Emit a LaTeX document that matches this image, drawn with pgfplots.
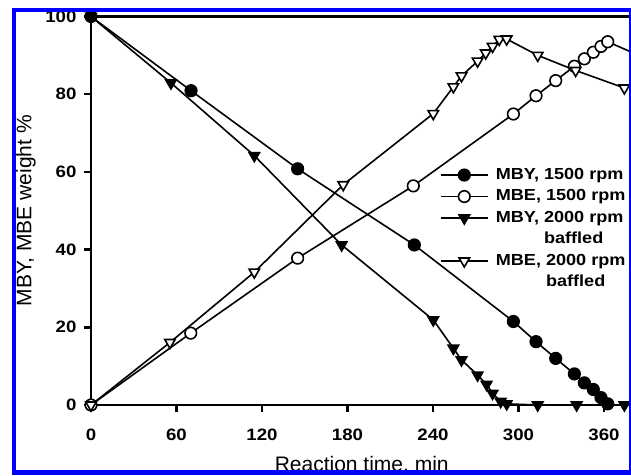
\documentclass[border=0pt]{standalone}
\usepackage{pgfplots}
\pgfplotsset{compat=1.18}
\usepackage{fontspec}
\setmainfont{Liberation Sans}
\newfontfamily\bfont{Liberation Sans}[FakeStretch=1.13]
\newcommand\tickf{\bfont\bfseries\fontsize{16.5}{19}\selectfont}
\newcommand\legf{\bfont\bfseries\fontsize{16}{19}\selectfont}
\newcommand\labf{\fontsize{21}{25}\selectfont}
\begin{document}
\begin{tikzpicture}
\path[use as bounding box, fill=white] (0pt,0pt) rectangle (631pt,475pt);
\clip (0pt,0pt) rectangle (631pt,475pt);
\begin{axis}[
  at={(91pt,70pt)}, anchor=south west,
  scale only axis, width=541.5pt, height=388.5pt,
  xmin=0, xmax=380, ymin=0, ymax=100,
  xtick={0,60,...,360}, ytick={0,20,...,100},
  tick pos=left, tick align=outside, major tick length=7pt,
  every tick/.style={black, line width=2.5pt},
  axis line style={line width=2.8pt},
  tick label style={font=\tickf},
  xticklabel style={yshift=-13pt},
  yticklabel style={xshift=-4pt},
  /pgf/number format/assume math mode=true,
  xlabel={Reaction time, min}, ylabel={MBY, MBE weight \%},
  every axis x label/.style={at={(axis description cs:0.5,-0.1715)}, anchor=base, font=\labf},
  every axis y label/.style={at={(axis description cs:-0.1099,0.5)}, rotate=90, anchor=base, font=\labf},
  legend style={draw=none, fill=none, inner sep=0pt, outer sep=0pt,
    at={(axis description cs:0.6445,0.6196)}, anchor=north west,
    font=\legf, row sep=0pt, column sep=4.5pt,
    nodes={inner sep=2.75pt, text height=12pt, text depth=4pt}},
  legend cell align=left,
  legend image code/.code={\draw[mark repeat=2,mark phase=2,#1] plot coordinates {(0pt,0pt) (23.5pt,0pt) (47pt,0pt)};},
]
\addplot[black, line width=1.6pt, mark=*, mark size=5.8pt, mark options={solid, fill=black}] coordinates {
(0,100) (70.2,80.9) (145,60.8) (226.9,41.2) (296.4,21.5) (312.3,16.3) (326.1,12.0) (339.2,8.0) (346.2,5.7) (352.5,4.0) (357.9,1.9) (362.6,0.3)};
\addlegendentry{MBY, 1500 rpm}
\addplot[black, line width=1.6pt, mark=*, mark size=5.8pt, mark options={solid, fill=white}] coordinates {
(0,0) (70,18.5) (145,37.8) (226.2,56.4) (296.4,74.9) (312.3,79.6) (326.1,83.5) (339.2,87.2) (346.2,89.1) (352.5,90.8) (357.9,92.3) (362.6,93.5) (395,88.3)};
\addlegendentry{MBE, 1500 rpm}
\addplot[black, line width=1.6pt, mark=triangle*, mark size=6pt, mark options={solid, rotate=180, fill=black}] coordinates {
(0,100) (56.1,82.9) (114.6,64.2) (175.9,41.2) (240.2,21.9) (254.3,14.6) (260,11.6) (271.3,7.7) (277.6,5.3) (281.8,3.0) (287.5,0.9) (291.7,0.3) (313.5,0) (340.8,0) (374.3,0)};
\addlegendentry{MBY, 2000 rpm}
\addlegendimage{empty legend}
\addlegendentry{\phantom{MBY, }baffled}
\addplot[black, line width=1.6pt, mark=triangle*, mark size=6pt, mark options={solid, rotate=180, fill=white}] coordinates {
(0,0) (55.4,16.1) (114.6,34.2) (177,56.7) (240.2,75.0) (254.3,81.9) (260,84.7) (271.3,88.5) (277,90.6) (281.8,92.3) (286.5,94.1) (291.7,94.2) (313.5,90.0) (340.1,86.1) (374.3,81.6)};
\addlegendentry{MBE, 2000 rpm}
\addlegendimage{empty legend}
\addlegendentry{\phantom{MBE, }baffled}
\end{axis}
\fill[white] (0pt,0pt) rectangle (11.7pt,475pt);
\fill[white] (0pt,466.7pt) rectangle (631pt,475pt);
\fill[blue] (11.7pt,0pt) rectangle (15.7pt,466.7pt);
\fill[blue] (11.7pt,462.7pt) rectangle (631pt,466.7pt);
\fill[blue] (629pt,0pt) rectangle (631pt,466.7pt);
\fill[blue] (11.7pt,0pt) rectangle (631pt,5pt);
\end{tikzpicture}
\end{document}
